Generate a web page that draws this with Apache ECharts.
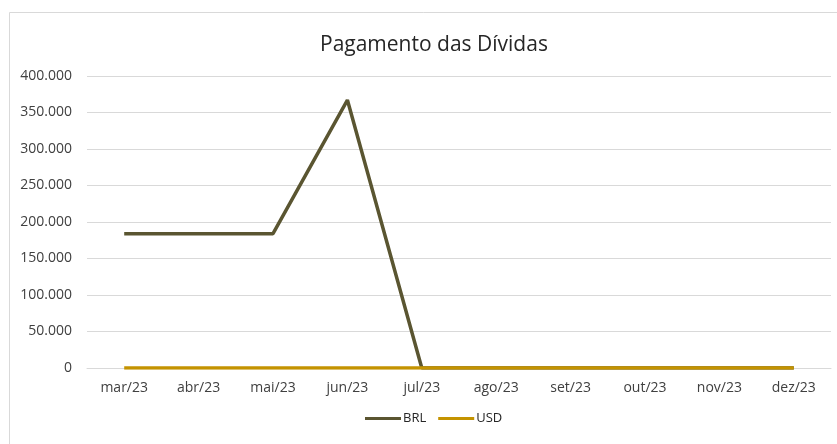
<!DOCTYPE html>
<html>
<head>
<meta charset="utf-8">
<script src="https://cdn.jsdelivr.net/npm/echarts@6/dist/echarts.min.js"></script>
<style>
  html, body { margin: 0; padding: 0; background: #fff; }
  #chart { width: 837px; height: 444px; }
</style>
</head>
<body>
<div id="chart"></div>
<script>
// meses
const months = ['mar/23', 'abr/23', 'mai/23', 'jun/23', 'jul/23', 'ago/23', 'set/23', 'out/23', 'nov/23', 'dez/23'];
// valores
const brl = [184000, 184000, 184000, 367000, 0, 0, 0, 0, 0, 0];
const usd = [0, 0, 0, 0, 0, 0, 0, 0, 0, 0];

const font = '"Open Sans", sans-serif';

const chart = echarts.init(document.getElementById('chart'), null, { renderer: 'canvas' });

const option = {
  backgroundColor: '#ffffff',
  animation: false,
  title: {
    text: 'Pagamento das Dívidas',
    left: 315,
    top: 30,
    textStyle: {
      fontFamily: font,
      fontSize: 21,
      fontWeight: 'normal',
      color: '#262626'
    }
  },
  graphic: [{
    type: 'rect',
    shape: { x: 9.5, y: 12.5, width: 840, height: 440 },
    style: { fill: 'none', stroke: '#d9d9d9', lineWidth: 1 },
    silent: true
  }],
  legend: {
    bottom: 14,
    left: 360,
    itemWidth: 36,
    itemHeight: 3,
    itemGap: 12,
    icon: 'rect',
    textStyle: { fontFamily: font, fontSize: 13, color: '#262626', padding: [0, 0, 0, -3] },
    data: ['BRL', 'USD']
  },
  grid: {
    left: 87,
    right: 6,
    top: 76,
    bottom: 76
  },
  xAxis: {
    type: 'category',
    data: months,
    boundaryGap: true,
    axisLine: { show: true, lineStyle: { color: '#d9d9d9' } },
    axisTick: { show: false },
    axisLabel: { fontFamily: font, fontSize: 14, color: '#404040', margin: 13 }
  },
  yAxis: {
    type: 'value',
    min: 0,
    max: 400000,
    interval: 50000,
    axisLine: { show: false },
    axisTick: { show: false },
    splitLine: { lineStyle: { color: '#d9d9d9' } },
    axisLabel: {
      fontFamily: font,
      fontSize: 14,
      color: '#404040',
      margin: 15,
      formatter: v => v.toLocaleString('pt-BR')
    }
  },
  series: [
    {
      name: 'BRL',
      type: 'line',
      data: brl,
      showSymbol: false,
      lineStyle: { width: 3.5, color: '#5a5531' },
      itemStyle: { color: '#5a5531' },
      z: 2
    },
    {
      name: 'USD',
      type: 'line',
      data: usd,
      showSymbol: false,
      lineStyle: { width: 3.5, color: '#c49300' },
      itemStyle: { color: '#c49300' },
      z: 3
    }
  ]
};

chart.setOption(option);
</script>
</body>
</html>
